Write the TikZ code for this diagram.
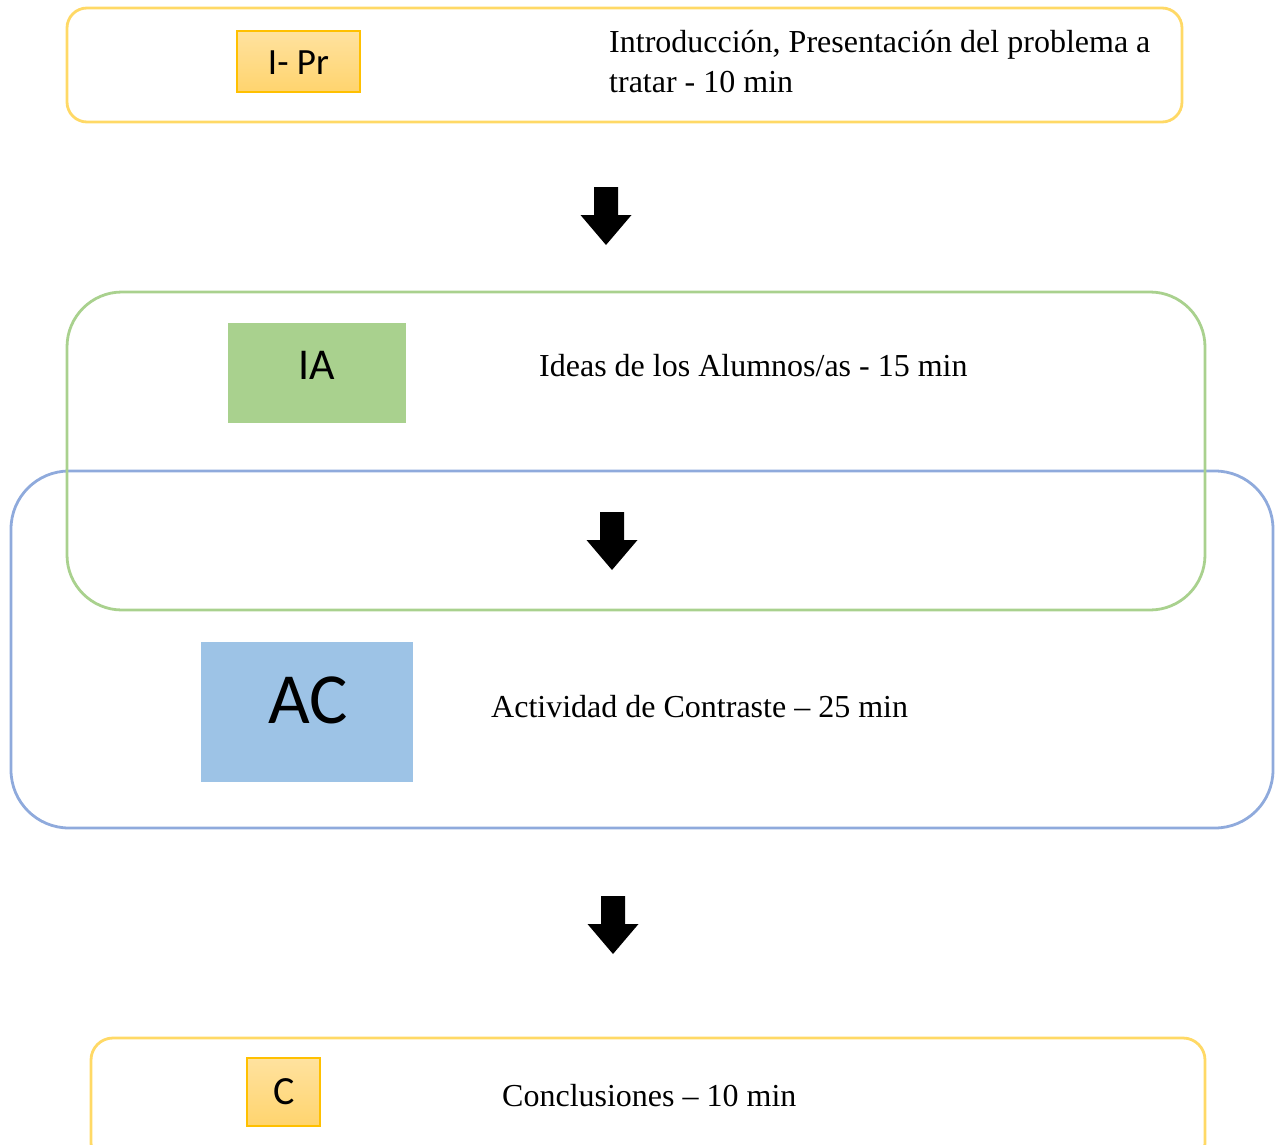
\documentclass[tikz,border=0pt]{standalone}
\usepackage{fontspec}
\setmainfont{Liberation Serif}
\newfontfamily\labelfont{Carlito}
\usetikzlibrary{positioning}

\definecolor{ylwline}{HTML}{FFD966}
\definecolor{grnline}{HTML}{A9D18E}
\definecolor{bluline}{HTML}{8FAADC}
\definecolor{acfill}{HTML}{9DC3E6}
\definecolor{ylwtop}{HTML}{FFE29F}
\definecolor{ylwbot}{HTML}{FFD46E}
\definecolor{ylwedge}{HTML}{FFC000}

\newcommand{\blockarrow}[1]{%
  \fill[black] (#1) ++(-12,0) -- ++(0,28) -- ++(-13.5,0) -- ++(25.5,30)
    -- ++(25.5,-30) -- ++(-13.5,0) -- ++(0,-28) -- cycle;}

\begin{document}
\begin{tikzpicture}[x=1pt,y=-1pt,
    frame/.style={draw, line width=2.8pt, inner sep=0pt},
    tag/.style={inner sep=0pt, outer sep=0pt},
    goldtag/.style={tag, draw=ylwedge, line width=1.2pt, top color=ylwtop, bottom color=ylwbot},
    phase/.style={inner sep=0pt, anchor=base west, font=\fontsize{32}{40}\selectfont, align=left},
    tagtext/.style={inner sep=0pt, font=\labelfont}]
    \useasboundingbox (0,0) rectangle (1280,1145);
    % Define nodes
    % outer frames
    \draw[frame, draw=ylwline, rounded corners=20pt] (67,8) rectangle (1182,122);
    \draw[frame, draw=bluline, rounded corners=58pt] (11,471) rectangle (1273,828);
    \draw[frame, draw=grnline, rounded corners=55pt] (67,292) rectangle (1205,610);
    \draw[frame, draw=ylwline, rounded corners=22pt] (91,1038) rectangle (1205,1165);
    % phase tags
    \node[goldtag, minimum width=123pt, minimum height=61pt] (ipr) at (298.5,61.5) {}; %
    \node[tag, fill=grnline, minimum width=178pt, minimum height=100pt] (ia) at (317,373) {}; %
    \node[tag, fill=acfill, minimum width=212pt, minimum height=140pt] (ac) at (307,712) {}; %
    \node[goldtag, minimum width=73pt, minimum height=68pt] (c) at (283.5,1092) {}; %
    \node[tagtext, font=\labelfont\fontsize{37}{40}\selectfont] (ipr-t) at (298.5,63) {I- Pr}; %
    \node[tagtext, font=\labelfont\fontsize{44}{50}\selectfont] (ia-t) at (317,365) {IA}; %
    \node[tagtext, font=\labelfont\fontsize{72}{80}\selectfont] (ac-t) at (308,700) {AC}; %
    \node[tagtext, font=\labelfont\fontsize{40}{44}\selectfont] (c-t) at (284,1092) {C}; %
    % descriptions
    \node[phase] (ipr-d) at (609,93) {Introducción, Presentación del problema a\\tratar - 10 min}; %
    \node[phase] (ia-d) at (539,376) {Ideas de los Alumnos/as - 15 min}; %
    \node[phase] (ac-d) at (491,717) {Actividad de Contraste – 25 min}; %
    \node[phase] (c-d) at (502,1106) {Conclusiones – 10 min}; %
    % arrows
    \coordinate (a1) at (606,187);
    \coordinate (a2) at (612,512);
    \coordinate (a3) at (613,896);
    \blockarrow{a1}
    \blockarrow{a2}
    \blockarrow{a3}
\end{tikzpicture}
\end{document}
